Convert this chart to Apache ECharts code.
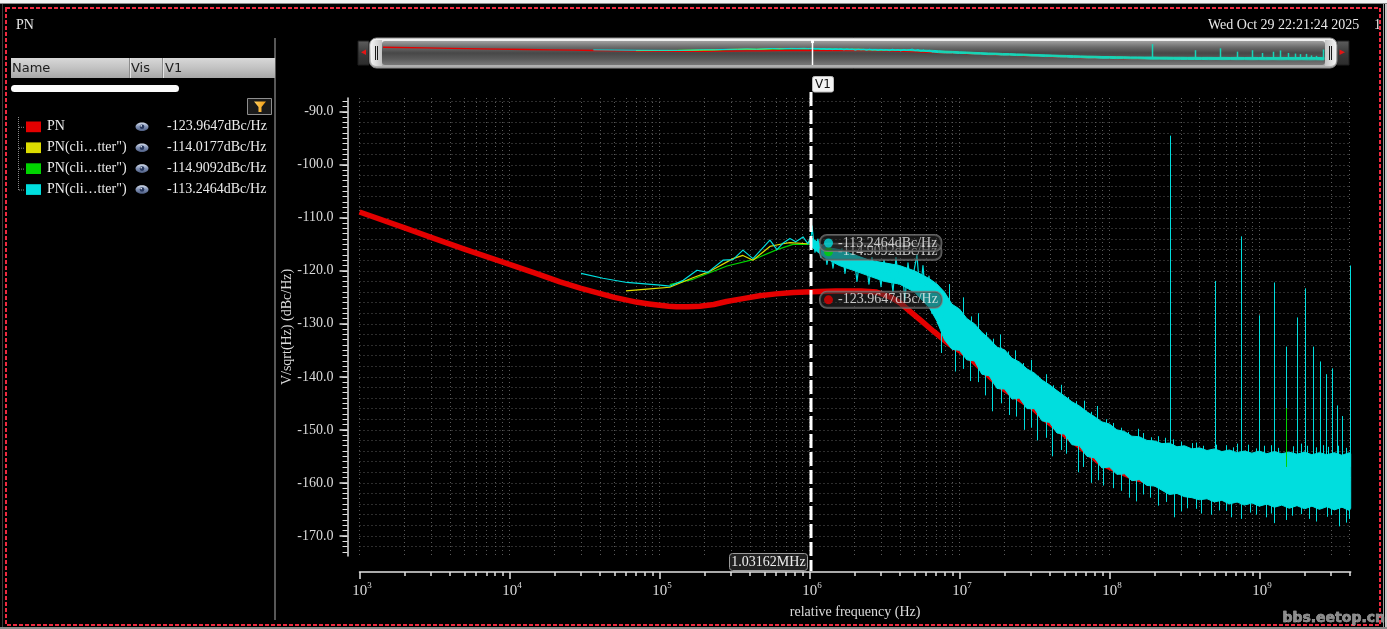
<!DOCTYPE html>
<html><head><meta charset="utf-8">
<script src="https://cdn.jsdelivr.net/npm/echarts@6/dist/echarts.min.js"></script>
<style>html,body{margin:0;padding:0;background:#000;overflow:hidden}#c{width:1387px;height:629px}</style>
</head><body><div id="c"></div>
<script>
// ================= DATA =================
const CURSOR_FREQ = 1.03162e6;
const seriesNames = ['PN', 'PN(cli\u2026tter")', 'PN(cli\u2026tter")', 'PN(cli\u2026tter")'];
const cursorValues = [-123.9647, -114.0177, -114.9092, -113.2464];

const xMajor = [1e3, 1e4, 1e5, 1e6, 1e7, 1e8, 1e9];
const yMajor = [-170, -160, -150, -140, -130, -120, -110, -100, -90];

const redFreq = [1e3,2e3,3e3,5e3,1e4,1.5e4,2.17e4,3e4,5e4,7e4,8.5e4,1e5,1.15e5,1.3e5,1.55e5,1.86e5,2.3e5,2.8e5,3.6e5,4.65e5,6e5,7.8e5,1.03162e6,1.5e6,2.2e6,2.8e6,3.5e6,4.0e6,4.7e6,5.6e6,6.7e6,8.5e6,1.12e7,1.86e7,3.1e7,3.9e7,6e7,8.7e7,1.5e8,3e8,1e9,4.06e9];
const redVal = [-108.9,-111.9,-113.7,-115.9,-118.8,-120.5,-122.1,-123.3,-125.0,-125.9,-126.25,-126.5,-126.7,-126.8,-126.8,-126.7,-126.35,-125.8,-125.25,-124.7,-124.35,-124.1,-123.9647,-123.8,-123.8,-124.0,-125.0,-126.0,-127.7,-129.5,-131.4,-133.8,-135.9,-141.8,-145.9,-148.5,-152.6,-156.3,-159.2,-161.0,-162.0,-162.3];

const yellowFreq = [5.98e4,8.64e4,1.17e5,1.67e5,2.17e5,3.09e5,3.60e5,4.20e5,5.45e5,6.65e5,7.41e5,9.62e5,1.03162e6,1.2e6,1.6e6,2.2e6,3e6,4e6,5.5e6,8e6,1.5e7,3e7,1e8,4e8,4.06e9];
const yellowVal = [-123.8,-123.4,-123.1,-121.3,-120.1,-117.7,-117.1,-118.0,-115.4,-114.9,-114.7,-114.9,-114.0177,-116.5,-118.5,-117.8,-121.0,-120.5,-123.0,-128.0,-136.0,-143.0,-152.0,-158.0,-159.0];

const greenFreq = [1.17e5,1.67e5,2.82e5,4.20e5,6.07e5,7.76e5,9.77e5,1.03162e6,1.3e6,2e6,3e6,5e6,8e6,1.5e7,3e7,1e8,4e8,4.06e9];
const greenVal = [-122.6,-121.6,-119.1,-117.9,-116.0,-115.0,-115.0,-114.9092,-116.8,-119.0,-120.0,-122.5,-128.5,-136.5,-143.5,-152.5,-158.5,-159.5];

const cyanFreq = [3.0e4,4.2e4,6.07e4,1.01e5,1.17e5,1.44e5,1.78e5,2.10e5,2.65e5,3.09e5,3.60e5,4.20e5,5.45e5,6.07e5,6.65e5,7.41e5,8.1e5,9.06e5,9.77e5,1.03162e6,
  1.039e6,1.088e6,1.139e6,1.193e6,1.249e6,1.308e6,1.370e6,1.435e6,1.502e6,1.573e6,1.647e6,1.725e6,1.806e6,1.891e6,1.980e6,2.074e6,2.171e6,2.274e6,2.381e6,2.493e6,
  2.611e6,2.734e6,2.863e6,2.998e6,3.139e6,3.287e6,3.442e6,3.604e6,3.774e6,3.952e6,4.138e6,4.333e6,4.537e6,4.751e6,4.975e6,5.209e6,5.455e6,5.712e6,5.981e6,6.263e6,
  6.558e6,6.867e6,7.190e6,7.529e6,7.884e6];
const cyanVal = [-120.5,-121.4,-122.2,-122.7,-122.9,-121.8,-119.9,-120.3,-118.0,-117.9,-116.1,-117.7,-114.2,-116.0,-114.8,-113.9,-114.5,-113.6,-114.9,-113.2464,
  -111.5,-116.5,-114.0,-117.5,-115.0,-118.8,-115.5,-119.5,-116.0,-118.0,-115.8,-120.5,-116.5,-119.0,-117.0,-122.0,-117.5,-120.0,-118.0,-122.5,
  -117.5,-121.0,-118.5,-123.0,-118.0,-121.5,-119.0,-124.0,-117.5,-122.5,-119.5,-125.5,-118.5,-123.0,-120.0,-117.0,-124.5,-119.0,-126.0,-121.0,
  -128.0,-122.5,-130.0,-123.5,-131.5];

const bandFreq = [1.03162e6,1.26e6,1.58e6,2.00e6,2.51e6,3.16e6,3.98e6,5.01e6,6.31e6,7.08e6,
  7.94e6,8.91e6,1.00e7,1.12e7,1.26e7,1.41e7,1.58e7,1.78e7,2.00e7,2.24e7,
  2.51e7,2.82e7,3.16e7,3.55e7,3.98e7,4.47e7,5.01e7,5.62e7,6.31e7,7.08e7,
  7.94e7,8.91e7,1.00e8,1.12e8,1.26e8,1.41e8,1.58e8,1.78e8,2.00e8,2.24e8,
  2.51e8,2.82e8,3.16e8,3.55e8,3.98e8,4.47e8,5.01e8,5.62e8,6.31e8,7.08e8,
  7.94e8,8.91e8,1.00e9,1.12e9,1.26e9,1.41e9,1.58e9,1.78e9,2.00e9,2.24e9,
  2.51e9,2.82e9,3.16e9,3.55e9,3.98e9,4.06e9];
const bandUpper = [-113.8,-115.5,-116.0,-117.0,-118.0,-118.5,-119.0,-120.0,-121.5,-122.5,
  -124.0,-126.3,-127.2,-129.0,-130.0,-131.6,-132.8,-134.4,-134.9,-136.5,
  -137.2,-138.5,-139.3,-140.6,-141.5,-142.6,-143.6,-144.7,-145.5,-146.6,
  -147.5,-148.5,-148.9,-150.0,-150.3,-151.2,-151.3,-152.0,-152.1,-152.6,
  -152.5,-153.2,-153.0,-153.6,-153.4,-153.9,-153.6,-154.1,-153.8,-154.3,
  -154.0,-154.4,-154.0,-154.5,-154.1,-154.5,-154.2,-154.6,-154.2,-154.7,
  -154.3,-154.7,-154.3,-154.8,-154.3,-154.5];
const bandLower = [-115.5,-117.5,-119.0,-120.0,-121.0,-122.0,-122.5,-124.0,-127.0,-129.5,
  -133.0,-134.8,-135.0,-136.8,-137.0,-139.5,-139.8,-142.2,-142.3,-144.2,
  -144.0,-146.0,-146.0,-148.3,-148.6,-150.6,-150.8,-152.8,-153.0,-155.0,
  -155.3,-157.2,-157.0,-158.4,-158.3,-159.6,-159.4,-160.5,-160.6,-161.4,
  -162.2,-162.0,-162.6,-162.8,-163.2,-163.0,-163.6,-163.3,-164.0,-163.6,
  -164.2,-163.8,-164.4,-164.0,-164.6,-164.2,-164.8,-164.3,-164.9,-164.4,
  -165.0,-164.5,-165.1,-164.6,-165.2,-164.8];

const noiseFreq = [7.59e6,9.33e6,1.17e7,1.48e7,1.66e7,2.14e7,2.69e7,3.31e7,4.17e7,5.13e7,6.17e7,7.59e7,9.12e7,1.05e8,1.35e8,1.86e8,2.69e8,3.31e8,4.07e8,5.37e8,6.46e8,8.71e8,1.10e9,1.26e9,1.66e9,2.14e9,2.82e9,3.39e9,3.98e9,
  8.51e6,1.05e7,1.32e7,1.86e7,2.34e7,3.02e7,3.80e7,4.79e7,6.76e7,8.32e7,1.05e8,1.55e8,2.34e8,3.55e8,5.13e8,7.08e8,1.07e9,1.51e9,2.09e9,2.88e9,
  1.06e7,1.19e7,1.33e7,1.50e7,1.68e7,1.88e7,2.11e7,2.66e7,2.99e7,3.35e7,4.22e7,5.31e7,5.96e7,7.50e7,9.44e7,1.19e8,1.33e8,1.68e8,1.88e8,2.11e8,
  2.66e8,2.99e8,3.76e8,4.22e8,5.96e8,6.68e8,8.41e8,9.44e8,1.19e9,1.33e9,1.68e9,1.88e9,2.37e9,2.66e9,3.35e9,3.76e9,
  1.06e7,1.33e7,1.88e7,2.37e7,2.99e7,3.76e7,4.73e7,6.68e7,8.41e7,1.19e8,1.50e8,1.68e8,2.11e8,2.37e8,2.99e8,3.76e8,4.73e8,5.96e8,7.50e8,9.44e8,
  1.19e9,1.50e9,1.88e9,2.37e9,2.99e9,3.76e9];
const noiseFrom = [-130,-134,-136,-138,-139,-142,-144,-146,-148,-150,-151,-153,-155,-156,-157,-159,-160,-160,-161,-161,-162,-162,-162,-162,-162,-162,-162,-163,-163,
  -127,-130,-132,-136,-138,-140,-142,-144,-147,-149,-151,-152,-154,-155,-156,-156,-156,-156,-156,-156,
  -131,-132,-134,-135,-137,-138,-139,-141,-142,-143,-145,-147,-148,-150,-152,-153,-153,-154,-155,-155,
  -155,-156,-156,-156,-156,-156,-156,-156,-156,-156,-156,-156,-156,-156,-156,-156,
  -135,-137,-141,-143,-145,-147,-149,-153,-155,-157,-158,-159,-160,-160,-161,-161,-162,-162,-162,-163,
  -163,-163,-163,-163,-163,-163];
const noiseTo = [-135.5,-139,-140.8,-143.5,-146.5,-147.2,-150,-152,-155,-154.5,-158,-160,-160.5,-161,-162.8,-162.8,-166.5,-164.8,-165.8,-165.2,-166.5,-165.6,-166.5,-167.6,-166.2,-166.8,-166.4,-168.2,-166.8,
  -122.5,-125,-128,-132,-135,-136.8,-139.5,-141.5,-144.5,-145.5,-148.7,-149.8,-151.5,-152.5,-152.8,-152.6,-153,-152.8,-153,-153.2,
  -127.8,-128.6,-130.2,-131.6,-132.8,-134.5,-135.2,-137.4,-138.6,-139.8,-141.6,-143.8,-144.6,-146.6,-148.0,-149.6,-150.4,-150.6,-151.4,-151.2,
  -151.8,-152.2,-152.4,-153.0,-152.9,-153.3,-152.8,-153.5,-152.9,-153.4,-153.1,-152.6,-153.3,-152.9,-153.0,-153.4,
  -138.5,-141.0,-145.0,-147.5,-149.6,-151.5,-153.8,-157.0,-159.5,-161.5,-163.5,-162.2,-164.3,-163.6,-165.4,-164.9,-166.0,-165.3,-166.8,-166.0,
  -165.8,-167.0,-165.9,-167.3,-166.1,-167.5];

const spurFreq = [2.52e8,5.03e8,7.5e8,1.0e9,1.26e9,1.5e9,1.77e9,2.0e9,2.27e9,2.52e9,2.77e9,3.03e9,3.28e9,3.54e9,4.0e9];
const spurPeak = [-94.5,-121.9,-113.5,-128.4,-122.2,-134.3,-128.8,-123.3,-134.3,-137.1,-139.5,-138.4,-145.4,-147.4,-119.0];
const SPUR_BASE = -157;
const greenSpurFreq = [1.515e9];
const greenSpurPeak = [-145.9];

// ================= STYLE / LAYOUT =================
const COLORS = ['#e40000', '#dcdc00', '#00d400', '#00dede'];
const MINI_CYAN = '#16d4b8';
const X_MIN = 1e3, X_MAX = 4.06e9, Y_MIN = -173.8, Y_MAX = -87.4;
const SERIF = "'Liberation Serif','Times New Roman',serif";
const SANS = "'DejaVu Sans',sans-serif";
const AXC = '#e2e2e2', TXT = '#dcdcdc', GRIDC = '#5a5a5a';

const xMinor = [], xGrid = [];
for (let e = 3; e <= 9; e++) for (let k = 1; k <= 9; k++) {
  const v = k * Math.pow(10, e);
  if (v <= X_MAX) { xGrid.push(v); if (k > 1) xMinor.push(v); }
}
const yMinor = [], yGrid = [];
for (let v = -173; v <= -88; v++) yMinor.push(v);
for (let v = -172; v <= -88; v += 2) yGrid.push(v);

const pairs = (xs, ys) => xs.map((x, i) => [x, ys[i]]);

function lineS(xi, yi, xs, ys, color, width, z, extra) {
  return Object.assign({type: 'line', xAxisIndex: xi, yAxisIndex: yi, data: pairs(xs, ys), symbol: 'none',
    lineStyle: {color, width, join: 'round', cap: 'butt'}, z, silent: true, animation: false}, extra || {});
}
function vSeg(xi, yi, xs, from, to, color, width, z) {
  return {type: 'custom', xAxisIndex: xi, yAxisIndex: yi, z, silent: true, animation: false,
    data: xs.map((f, i) => [f, from[i], to[i]]), encode: {x: 0, y: [1, 2]},
    renderItem(params, api) {
      const a = api.coord([api.value(0), api.value(1)]);
      const b = api.coord([api.value(0), api.value(2)]);
      const x = Math.round(a[0]) + 0.5;
      return {type: 'line', shape: {x1: x, y1: a[1], x2: x, y2: b[1]}, style: {stroke: color, lineWidth: width}};
    }};
}
function bandS(xi, yi, color, z) {
  return {type: 'custom', xAxisIndex: xi, yAxisIndex: yi, z, silent: true, animation: false,
    data: bandFreq.map((f, i) => [f, bandUpper[i], bandLower[i]]), encode: {x: 0, y: [1, 2]},
    renderItem(params, api) {
      if (params.dataIndex !== 0) return null;
      const up = bandFreq.map((f, i) => api.coord([f, bandUpper[i]]));
      const lo = bandFreq.map((f, i) => api.coord([f, bandLower[i]])).reverse();
      return {type: 'polygon', shape: {points: up.concat(lo)}, style: {fill: color, stroke: color, lineWidth: 1}};
    }};
}
function marker(idx, z) {
  const c = COLORS[idx];
  return {type: 'scatter', xAxisIndex: 0, yAxisIndex: 0, z, silent: true, animation: false,
    data: [[CURSOR_FREQ, cursorValues[idx]]], symbolSize: 1, itemStyle: {color: 'rgba(0,0,0,0)'},
    label: {show: true, position: 'right', distance: 8, offset: [0, 8],
      formatter: '{d|}{t|' + cursorValues[idx].toFixed(4) + 'dBc/Hz}',
      backgroundColor: 'rgba(48,48,48,0.62)', borderColor: '#7c7c7c', borderWidth: 1, borderRadius: 7,
      padding: [1, 4, 1, 4],
      rich: {d: {width: 9, height: 9, borderRadius: 4.5, backgroundColor: c},
             t: {color: '#f0f0f0', fontFamily: SERIF, fontSize: 14, padding: [0, 0, 0, 5]}}}};
}

const spurBaseArr = spurFreq.map(() => SPUR_BASE);
const gSpurBaseArr = greenSpurFreq.map(() => SPUR_BASE);

const series = [
  lineS(0, 0, redFreq, redVal, COLORS[0], 5.5, 2),
  lineS(0, 0, greenFreq, greenVal, COLORS[2], 1.2, 3),
  lineS(0, 0, yellowFreq, yellowVal, COLORS[1], 1.2, 4),
  bandS(0, 0, COLORS[3], 5),
  lineS(0, 0, cyanFreq, cyanVal, COLORS[3], 1.2, 6),
  vSeg(0, 0, noiseFreq, noiseFrom, noiseTo, COLORS[3], 1, 6),
  vSeg(0, 0, spurFreq, spurBaseArr, spurPeak, COLORS[3], 1, 6),
  vSeg(0, 0, greenSpurFreq, gSpurBaseArr, greenSpurPeak, COLORS[2], 1, 6),
  marker(2, 20), marker(3, 21), marker(0, 20),
  // overview strip
  lineS(3, 3, redFreq, redVal, COLORS[0], 1.3, 3),
  lineS(3, 3, greenFreq, greenVal, COLORS[2], 1, 4),
  lineS(3, 3, yellowFreq, yellowVal, COLORS[1], 1, 4),
  bandS(3, 3, MINI_CYAN, 5),
  lineS(3, 3, cyanFreq, cyanVal, COLORS[3], 1, 6),
  vSeg(3, 3, spurFreq, spurBaseArr, spurPeak, MINI_CYAN, 1.5, 6)
];

const xCommon = {type: 'log', logBase: 10, min: X_MIN, max: X_MAX, gridIndex: 0, position: 'bottom', offset: 16};
const yCommon = {type: 'value', min: Y_MIN, max: Y_MAX, gridIndex: 0, position: 'left', offset: 12};

const option = {
  backgroundColor: '#000',
  animation: false,
  textStyle: {fontFamily: SERIF},
  grid: [
    {left: 359.5, right: 36.3, top: 98, bottom: 73, containLabel: false, outerBoundsMode: 'none'},
    {left: 383, right: 63, top: 41, height: 24, containLabel: false, outerBoundsMode: 'none'}
  ],
  xAxis: [
    Object.assign({}, xCommon, {
      axisLine: {show: true, lineStyle: {color: AXC, width: 1.5}},
      axisTick: {show: true, length: 7, customValues: xMajor, lineStyle: {color: AXC, width: 1.5}},
      axisLabel: {show: true, customValues: xMajor, margin: 9,
        formatter: v => '{b|10}{s|' + Math.round(Math.log10(v)) + '}',
        rich: {b: {fontFamily: SERIF, fontSize: 15, color: TXT, lineHeight: 20, padding: [0, 0, 0, 5]},
               s: {fontFamily: SERIF, fontSize: 9, color: TXT, lineHeight: 10, verticalAlign: 'top'}}},
      splitLine: {show: false},
      name: 'relative frequency (Hz)', nameLocation: 'middle', nameGap: 33, nameMoveOverlap: false,
      nameTextStyle: {color: TXT, fontFamily: SERIF, fontSize: 14}
    }),
    Object.assign({}, xCommon, {
      axisLine: {show: false},
      axisTick: {show: true, length: 4, customValues: xMinor, lineStyle: {color: AXC, width: 1.5}},
      axisLabel: {show: false}, splitLine: {show: false}
    }),
    Object.assign({}, xCommon, {offset: 0,
      axisLine: {show: false}, axisTick: {show: false, customValues: xGrid}, axisLabel: {show: false},
      splitLine: {show: true, lineStyle: {color: GRIDC, width: 1, type: [1, 3]}}
    }),
    {type: 'log', logBase: 10, gridIndex: 1, min: X_MIN, max: X_MAX, show: false}
  ],
  yAxis: [
    Object.assign({}, yCommon, {
      axisLine: {show: true, lineStyle: {color: AXC, width: 1.5}},
      axisTick: {show: true, length: 8, customValues: yMajor, lineStyle: {color: AXC, width: 1.5}},
      axisLabel: {show: true, customValues: yMajor, margin: 14, formatter: v => v.toFixed(1),
        color: TXT, fontFamily: SERIF, fontSize: 14},
      splitLine: {show: false},
      name: 'V/sqrt(Hz) (dBc/Hz)', nameLocation: 'middle', nameGap: 53, nameMoveOverlap: false,
      nameTextStyle: {color: TXT, fontFamily: SERIF, fontSize: 14}
    }),
    Object.assign({}, yCommon, {
      axisLine: {show: false},
      axisTick: {show: true, length: 5, customValues: yMinor, lineStyle: {color: AXC, width: 1}},
      axisLabel: {show: false}, splitLine: {show: false}
    }),
    Object.assign({}, yCommon, {offset: 0,
      axisLine: {show: false}, axisTick: {show: false, customValues: yGrid}, axisLabel: {show: false},
      splitLine: {show: true, lineStyle: {color: GRIDC, width: 1, type: [1, 3]}}
    }),
    {type: 'value', gridIndex: 1, min: -188, max: -81, show: false}
  ],
  series
};

const chart = echarts.init(document.getElementById('c'), null, {renderer: 'canvas', width: 1387, height: 629});
chart.setOption(option);

const cx = Math.round(chart.convertToPixel({xAxisIndex: 0}, CURSOR_FREQ));
const mx = Math.round(chart.convertToPixel({xAxisIndex: 3}, CURSOR_FREQ));
const LG = (stops, x2, y2) => new echarts.graphic.LinearGradient(0, 0, x2 || 0, y2 === undefined ? 1 : y2,
  stops.map((c, i) => ({offset: i / (stops.length - 1), color: c})));
const txt = (x, y, text, font, fill, align, z) => ({type: 'text', x, y, z: z || 10, silent: true,
  style: {text, font, fill, align: align || 'left', verticalAlign: 'middle'}});

const g = [];
// window chrome
g.push({type: 'rect', z: 1, shape: {x: 0, y: 0, width: 1387, height: 3}, style: {fill: '#f2f2f2'}});
g.push({type: 'rect', z: 1, shape: {x: 0, y: 3, width: 1387, height: 1}, style: {fill: '#8a8a8a'}});
g.push({type: 'rect', z: 1, shape: {x: 2, y: 4, width: 1, height: 625}, style: {fill: '#3a3a3a'}});
g.push({type: 'rect', z: 1, shape: {x: 1383, y: 4, width: 1, height: 625}, style: {fill: '#9a9a9a'}});
g.push({type: 'rect', z: 1, shape: {x: 1385, y: 4, width: 2, height: 625}, style: {fill: '#c8c8c8'}});
g.push({type: 'rect', z: 1, shape: {x: 0, y: 627, width: 1387, height: 2}, style: {fill: '#8a8a8a'}});
g.push({type: 'rect', z: 50, shape: {x: 6, y: 8, width: 1374, height: 617},
  style: {fill: null, stroke: '#ee2a40', lineWidth: 2, lineDash: [4, 2]}});
// header
g.push(txt(16, 25, 'PN', '14px ' + SERIF, '#e8e8e8'));
g.push(txt(1208, 25, 'Wed Oct 29 22:21:24 2025', '14px ' + SERIF, '#e8e8e8'));
g.push(txt(1374, 25, '1', '14px ' + SERIF, '#e8e8e8'));
// left panel
g.push({type: 'rect', z: 1, shape: {x: 274, y: 38, width: 2, height: 582}, style: {fill: '#575757'}});
g.push({type: 'rect', z: 1, shape: {x: 11, y: 58, width: 264, height: 20}, style: {fill: LG(['#d8d8d8', '#c2c2c2', '#a6a6a6'])}});
g.push({type: 'rect', z: 2, shape: {x: 129, y: 58, width: 1, height: 20}, style: {fill: '#8c8c8c'}});
g.push({type: 'rect', z: 2, shape: {x: 130, y: 58, width: 1, height: 20}, style: {fill: '#e4e4e4'}});
g.push({type: 'rect', z: 2, shape: {x: 162, y: 58, width: 1, height: 20}, style: {fill: '#8c8c8c'}});
g.push({type: 'rect', z: 2, shape: {x: 163, y: 58, width: 1, height: 20}, style: {fill: '#e4e4e4'}});
g.push(txt(12, 69, 'Name', '13px ' + SANS, '#1c1c1c'));
g.push(txt(131, 69, 'Vis', '13px ' + SANS, '#1c1c1c'));
g.push(txt(165, 69, 'V1', '13px ' + SANS, '#1c1c1c'));
g.push({type: 'rect', z: 2, shape: {x: 11, y: 85, width: 168, height: 7, r: 3.5}, style: {fill: '#fbfbfb'}});
g.push({type: 'rect', z: 2, shape: {x: 247.5, y: 98.5, width: 24, height: 16}, style: {fill: '#1a1a1a', stroke: '#8e8e8e', lineWidth: 1}});
g.push({type: 'polygon', z: 3, shape: {points: [[254, 101.5], [266, 101.5], [261.5, 107], [261.5, 112], [258.5, 112], [258.5, 107]]},
  style: {fill: LG(['#ffd060', '#f09a10'], 1, 0)}});
g.push({type: 'line', z: 2, shape: {x1: 18.5, y1: 117, x2: 18.5, y2: 190}, style: {stroke: '#8a8a8a', lineDash: [1, 1], lineWidth: 1}});
for (let i = 0; i < 4; i++) {
  const yc = 126.8 + i * 20.9;
  g.push({type: 'line', z: 2, shape: {x1: 19, y1: yc + 0.5, x2: 25, y2: yc + 0.5}, style: {stroke: '#8a8a8a', lineDash: [1, 1], lineWidth: 1}});
  g.push({type: 'rect', z: 2, shape: {x: 26, y: yc - 5.3, width: 15, height: 10.7}, style: {fill: COLORS[i]}});
  g.push(txt(47, yc, seriesNames[i], '14px ' + SERIF, '#ececec'));
  g.push({type: 'ellipse', z: 2, shape: {cx: 142, cy: yc, rx: 6.5, ry: 4.3}, style: {fill: LG(['#d6dfee', '#7f90b4', '#4d5d82'])}});
  g.push({type: 'circle', z: 3, shape: {cx: 142, cy: yc, r: 2.3}, style: {fill: '#26365c'}});
  g.push({type: 'circle', z: 3, shape: {cx: 141.2, cy: yc - 0.9, r: 0.8}, style: {fill: '#e8eef8'}});
  g.push(txt(167, yc, cursorValues[i].toFixed(4) + 'dBc/Hz', '14px ' + SERIF, '#ececec'));
}
// overview slider frame
g.push({type: 'rect', z: 1, shape: {x: 358, y: 41, width: 11, height: 24}, style: {fill: LG(['#5e5e5e', '#3a3a3a', '#2c2c2c']), stroke: '#1e1e1e', lineWidth: 1}});
g.push({type: 'polygon', z: 2, shape: {points: [[366, 49.5], [366, 55], [361, 52.2]]}, style: {fill: '#e31515'}});
g.push({type: 'rect', z: 1, shape: {x: 1337, y: 41, width: 12, height: 24}, style: {fill: LG(['#5e5e5e', '#3a3a3a', '#2c2c2c']), stroke: '#1e1e1e', lineWidth: 1}});
g.push({type: 'polygon', z: 2, shape: {points: [[1339.5, 49.5], [1339.5, 55], [1345, 52.2]]}, style: {fill: '#e31515'}});
g.push({type: 'rect', z: 1, shape: {x: 369.5, y: 38, width: 967.5, height: 30, r: 7}, style: {fill: LG(['#f6f6f6', '#d2d2d2', '#a8a8a8']), stroke: '#8a8a8a', lineWidth: 1}});
g.push({type: 'rect', z: 1, shape: {x: 382, y: 41, width: 943, height: 24, r: 3}, style: {fill: LG(['#a0a0a0', '#6c6c6c', '#474747', '#5a5a5a', '#787878'])}});
g.push({type: 'rect', z: 1, shape: {x: 371, y: 40, width: 11, height: 26, r: [5, 0, 0, 5]}, style: {fill: LG(['#f4f4f4', '#c4c4c4'], 1, 0)}});
g.push({type: 'rect', z: 1, shape: {x: 1325, y: 40, width: 11, height: 26, r: [0, 5, 5, 0]}, style: {fill: LG(['#c4c4c4', '#f4f4f4'], 1, 0)}});
[[375.5], [377.5], [1329.5], [1331.5]].forEach(([x]) =>
  g.push({type: 'line', z: 2, shape: {x1: x, y1: 46, x2: x, y2: 60}, style: {stroke: '#1c1c1c', lineWidth: 1}}));
// overview cursor
g.push({type: 'line', z: 30, shape: {x1: mx + 0.5, y1: 42, x2: mx + 0.5, y2: 65}, style: {stroke: '#ffffff', lineWidth: 1.5}});
g.push({type: 'rect', z: 30, shape: {x: mx - 1, y: 40, width: 3, height: 3}, style: {fill: '#ffffff'}});
// main cursor
g.push({type: 'line', z: 30, shape: {x1: cx, y1: 92, x2: cx, y2: 571}, style: {stroke: '#ffffff', lineWidth: 3, lineDash: [14, 4]}});
g.push({type: 'rect', z: 31, shape: {x: cx + 1.5, y: 76.5, width: 21, height: 15.5, r: 2}, style: {fill: '#f4f4f4', stroke: '#bbbbbb', lineWidth: 1}});
g.push(txt(cx + 12, 84.5, 'V1', '12px ' + SANS, '#111', 'center', 32));
g.push({type: 'rect', z: 31, shape: {x: cx - 81.5, y: 553.5, width: 78, height: 17, r: 3}, style: {fill: 'rgba(36,36,36,0.92)', stroke: '#9a9a9a', lineWidth: 1}});
g.push(txt(cx - 42.5, 562, (CURSOR_FREQ / 1e6).toFixed(5) + 'MHz', '14px ' + SERIF, '#eeeeee', 'center', 32));
// watermark
g.push({type: 'text', x: 1385, y: 618, z: 60, silent: true,
  style: {text: 'bbs.eetop.cn', font: 'bold 14px ' + SANS, fill: '#8c8c8c', align: 'right', verticalAlign: 'middle', stroke: '#dddddd', lineWidth: 0.5}});

chart.setOption({graphic: {elements: g}});
</script>
</body></html>
